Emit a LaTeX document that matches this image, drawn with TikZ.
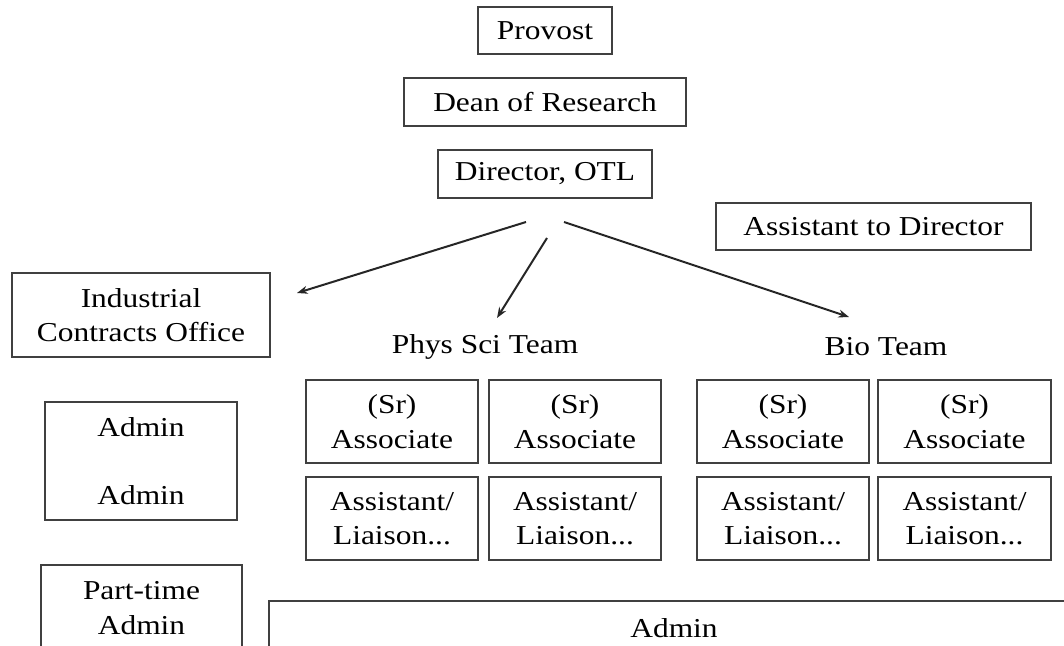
\documentclass[tikz,border=0pt]{standalone}
\usepackage{fontspec}
\setmainfont[FakeStretch=1.15]{Liberation Serif}
\usetikzlibrary{arrows.meta}
\newcommand\bx[6]{%
  \node[box, minimum width={(#4-#2)*0.75}, minimum height={(#5-#3)*0.75}]
    (#1) at ({(#2+#4)/2},{(#3+#5)/2}) {#6};}
\begin{document}
\begin{tikzpicture}[x=0.75pt,y=-0.75pt,
  box/.style={draw=black!75, line width=1.1pt, inner sep=0pt, align=center},
  lbl/.style={align=center, inner sep=0pt},
  arr/.style={line width=1.5pt, draw=black!85, -{Stealth[length=8pt,width=6pt]}},
  font=\fontsize{20.5}{26}\selectfont]
\path[use as bounding box] (0,0) rectangle (1064,646);
\clip (0,0) rectangle (1064,646);

\bx{provost}{478}{7}{612}{54}{Provost}
\bx{dean}{404}{78}{686}{126}{Dean of Research}
\bx{director}{438}{150}{652}{198}{Director, OTL}
\bx{asst}{716}{203}{1031}{250}{Assistant to Director}

\bx{ico}{12}{273}{270}{357}{Industrial\\Contracts Office}
\bx{admin2}{45}{402}{237}{520}{Admin\\[25pt]Admin}
\bx{parttime}{41}{565}{242}{690}{}
\node[lbl] (pttext) at (141.5,608) {Part-time\\Admin};
\bx{bigadmin}{269}{601}{1085}{690}{}
\node[lbl] (bigtext) at (674,628) {Admin};

\node[lbl] (phys) at (485,347) {Phys Sci Team};
\node[lbl] (bio) at (886,347) {Bio Team};

\bx{p1}{306}{380}{478}{463}{(Sr)\\Associate}
\bx{p2}{489}{380}{661}{463}{(Sr)\\Associate}
\bx{p3}{306}{477}{478}{560}{Assistant/\\Liaison...}
\bx{p4}{489}{477}{661}{560}{Assistant/\\Liaison...}

\bx{b1}{697}{380}{869}{463}{(Sr)\\Associate}
\bx{b2}{878}{380}{1051}{463}{(Sr)\\Associate}
\bx{b3}{697}{477}{869}{560}{Assistant/\\Liaison...}
\bx{b4}{878}{477}{1051}{560}{Assistant/\\Liaison...}

\coordinate (a1s) at (526,222);
\coordinate (a1e) at (297,293);
\coordinate (a2s) at (547,238);
\coordinate (a2e) at (497,318);
\coordinate (a3s) at (564,222);
\coordinate (a3e) at (849,317);
\draw[arr] (a1s) -- (a1e);
\draw[arr] (a2s) -- (a2e);
\draw[arr] (a3s) -- (a3e);
\end{tikzpicture}
\end{document}
